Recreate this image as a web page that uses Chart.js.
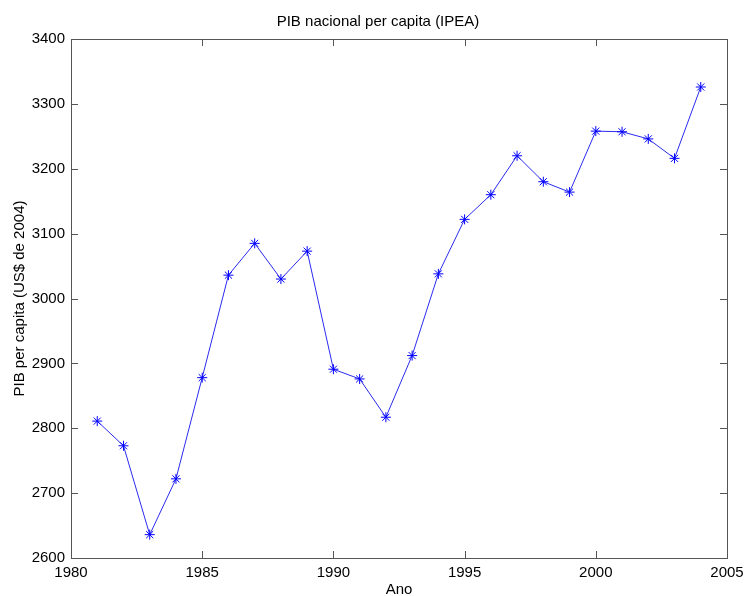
<!DOCTYPE html>
<html>
<head>
<meta charset="utf-8">
<script src="https://cdn.jsdelivr.net/npm/chart.js@4"></script>
<style>
  html, body { margin: 0; padding: 0; background: #fff; }
  #wrap { width: 744px; height: 596px; }
</style>
</head>
<body>
<div id="wrap"><canvas id="pibChart" width="744" height="596"></canvas></div>
<script>
// Data
const years = [1981, 1982, 1983, 1984, 1985, 1986, 1987, 1988, 1989, 1990, 1991, 1992,
               1993, 1994, 1995, 1996, 1997, 1998, 1999, 2000, 2001, 2002, 2003, 2004];
const pibPerCapita = [2811, 2773, 2636, 2722, 2878, 3036, 3085, 3030, 3073, 2891, 2876, 2817,
                      2912, 3038, 3122, 3160, 3220, 3180, 3164, 3258, 3257, 3246, 3216, 3326];
const xTicks = [1980, 1985, 1990, 1995, 2000, 2005];
const yTicks = [2600, 2700, 2800, 2900, 3000, 3100, 3200, 3300, 3400];

const fontFamily = 'Arial, "Liberation Sans", sans-serif';

// MATLAB-like box with inward ticks on all four sides
const boxTicks = {
    id: 'boxTicks',
    afterDraw(chart) {
        const ctx = chart.ctx;
        const a = chart.chartArea;
        const xs = chart.scales.x, ys = chart.scales.y;
        const len = 7;
        ctx.save();
        ctx.strokeStyle = '#555';
        ctx.lineWidth = 1;
        ctx.strokeRect(Math.round(a.left) + 0.5, Math.round(a.top) + 0.5,
                       Math.round(a.right - a.left), Math.round(a.bottom - a.top));
        ctx.beginPath();
        xTicks.forEach(v => {
            const px = Math.round(xs.getPixelForValue(v)) + 0.5;
            ctx.moveTo(px, a.bottom); ctx.lineTo(px, a.bottom - len);
            ctx.moveTo(px, a.top); ctx.lineTo(px, a.top + len);
        });
        yTicks.forEach(v => {
            const py = Math.round(ys.getPixelForValue(v)) + 0.5;
            ctx.moveTo(a.left, py); ctx.lineTo(a.left + len, py);
            ctx.moveTo(a.right, py); ctx.lineTo(a.right - len, py);
        });
        ctx.stroke();
        ctx.restore();
    }
};

const ctx = document.getElementById('pibChart').getContext('2d');
new Chart(ctx, {
    type: 'line',
    data: {
        datasets: [{
            data: years.map((y, i) => ({ x: y, y: pibPerCapita[i] })),
            borderColor: '#2a2af0',
            borderWidth: 1,
            pointStyle: 'star',
            pointRadius: 5,
            pointBorderColor: '#0000ff',
            pointBorderWidth: 1,
            pointBackgroundColor: '#0000ff',
            tension: 0,
            fill: false
        }]
    },
    options: {
        responsive: false,
        animation: false,
        layout: { padding: { left: 12, right: 0, top: 0, bottom: 0 } },
        plugins: {
            legend: { display: false },
            tooltip: { enabled: false },
            title: {
                display: true,
                text: 'PIB nacional per capita (IPEA)',
                color: '#000',
                font: { family: fontFamily, size: 15, weight: 'normal', lineHeight: 1.2 },
                padding: { top: 13, bottom: 8 }
            }
        },
        scales: {
            x: {
                type: 'linear',
                min: 1980,
                max: 2005,
                afterBuildTicks: s => { s.ticks = xTicks.map(v => ({ value: v })); },
                afterFit: s => { s.height = 38; s.paddingRight = 17; s.paddingLeft = 0; },
                grid: { display: false, drawTicks: false },
                border: { display: false },
                ticks: {
                    color: '#000',
                    padding: 6,
                    font: { family: fontFamily, size: 15 },
                    callback: v => String(v)
                },
                title: {
                    display: true,
                    text: 'Ano',
                    color: '#000',
                    font: { family: fontFamily, size: 15, lineHeight: 1 },
                    padding: { top: 0, bottom: -1 }
                }
            },
            y: {
                min: 2600,
                max: 3400,
                afterBuildTicks: s => { s.ticks = yTicks.map(v => ({ value: v })); },
                afterFit: s => { s.width = 59; },
                grid: { display: false, drawTicks: false },
                border: { display: false },
                ticks: {
                    color: '#000',
                    padding: 6,
                    font: { family: fontFamily, size: 15 },
                    callback: v => String(v)
                },
                title: {
                    display: true,
                    text: 'PIB per capita (US$ de 2004)',
                    color: '#000',
                    font: { family: fontFamily, size: 15, lineHeight: 1 },
                    padding: { top: 0, bottom: 0 }
                }
            }
        }
    },
    plugins: [boxTicks]
});
</script>
</body>
</html>
